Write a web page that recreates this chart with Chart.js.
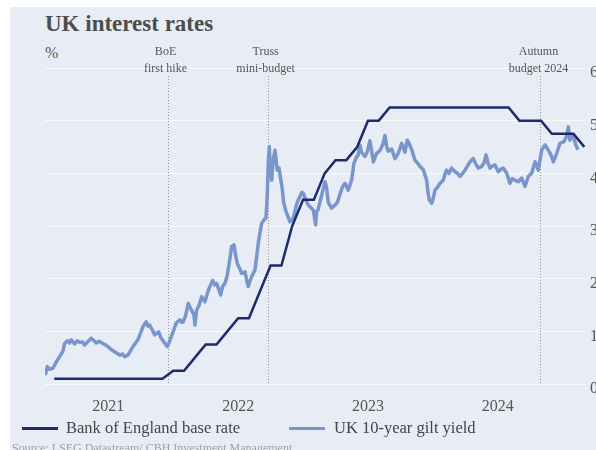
<!DOCTYPE html>
<html>
<head>
<meta charset="utf-8">
<title>UK interest rates</title>
<script src="https://cdn.jsdelivr.net/npm/chart.js@4.4.1/dist/chart.umd.min.js"></script>
<style>
  body { margin: 0; width: 596px; height: 450px; overflow: hidden; background: #fff; position: relative; font-family: 'Liberation Serif', 'Times New Roman', serif; }
  #panel { position: absolute; left: 10px; top: 7px; width: 620px; height: 460px; background: #e8ecf5; }
  #title { position: absolute; left: 45px; top: 11px; font-size: 23px; font-weight: bold; color: #4d4d4d; }
  #unit { position: absolute; left: 45px; top: 44px; font-size: 16px; color: #555; }
  #wrap { position: absolute; left: 0; top: 0; width: 620px; height: 420px; }
  .legend { position: absolute; top: 418px; font-size: 16.5px; color: #444; white-space: nowrap; }
  .swatch { position: absolute; top: 427px; width: 36px; height: 3px; }
  #source { position: absolute; left: 12px; top: 441px; font-size: 12px; color: #a0a0a0; white-space: nowrap; }
</style>
</head>
<body>
<div id="panel"></div>
<div id="title">UK interest rates</div>
<div id="unit">%</div>
<div id="wrap"><canvas id="ratesChart" width="620" height="420"></canvas></div>
<div class="swatch" style="left:22px; background:#1e2a6e;"></div>
<div class="legend" style="left:66px;">Bank of England base rate</div>
<div class="swatch" style="left:289px; background:#7896cc;"></div>
<div class="legend" style="left:334px;">UK 10-year gilt yield</div>
<div id="source">Source: LSEG Datastream/ CBH Investment Management</div>

<script>
// Bank of England base rate, month-end values from Jan 2021 to Feb 2025
const baseRateStart = 2021; // first value is end of January of this year
const baseRate = [
    0.1, 0.1, 0.1, 0.1, 0.1, 0.1, 0.1, 0.1, 0.1, 0.1, 0.1, 0.25,
    0.25, 0.5, 0.75, 0.75, 1.0, 1.25, 1.25, 1.75, 2.25, 2.25, 3.0, 3.5,
    3.5, 4.0, 4.25, 4.25, 4.5, 5.0, 5.0, 5.25, 5.25, 5.25, 5.25, 5.25,
    5.25, 5.25, 5.25, 5.25, 5.25, 5.25, 5.25, 5.0, 5.0, 5.0, 4.75, 4.75,
    4.75, 4.5
];

// UK 10-year gilt yield (decimal years)
const giltYears = [
    2021.014, 2021.030, 2021.045, 2021.073, 2021.099, 2021.125, 2021.150, 2021.163, 2021.185, 2021.202,
    2021.214, 2021.240, 2021.260, 2021.279, 2021.300, 2021.317, 2021.340, 2021.368, 2021.390, 2021.407,
    2021.430, 2021.458, 2021.480, 2021.497, 2021.520, 2021.549, 2021.570, 2021.587, 2021.610, 2021.626,
    2021.651, 2021.670, 2021.690, 2021.710, 2021.728, 2021.750, 2021.767, 2021.792, 2021.805, 2021.818,
    2021.840, 2021.857, 2021.875, 2021.888, 2021.905, 2021.921, 2021.940, 2021.954, 2021.970, 2021.985,
    2022.005, 2022.023, 2022.052, 2022.065, 2022.077, 2022.095, 2022.116, 2022.130, 2022.142, 2022.160,
    2022.167, 2022.180, 2022.200, 2022.219, 2022.244, 2022.260, 2022.277, 2022.304, 2022.320, 2022.334,
    2022.350, 2022.365, 2022.380, 2022.398, 2022.415, 2022.431, 2022.450, 2022.468, 2022.480, 2022.493,
    2022.510, 2022.527, 2022.553, 2022.565, 2022.578, 2022.590, 2022.604, 2022.629, 2022.642, 2022.655,
    2022.670, 2022.681, 2022.700, 2022.714, 2022.724, 2022.732, 2022.740, 2022.748, 2022.758, 2022.770,
    2022.784, 2022.801, 2022.815, 2022.827, 2022.840, 2022.850, 2022.866, 2022.880, 2022.899, 2022.924,
    2022.940, 2022.955, 2022.976, 2022.990, 2023.002, 2023.020, 2023.040, 2023.060, 2023.079, 2023.097,
    2023.105, 2023.115, 2023.145, 2023.169, 2023.180, 2023.194, 2023.220, 2023.246, 2023.265, 2023.284,
    2023.305, 2023.323, 2023.348, 2023.374, 2023.392, 2023.410, 2023.425, 2023.438, 2023.451, 2023.477,
    2023.495, 2023.515, 2023.530, 2023.541, 2023.567, 2023.592, 2023.615, 2023.631, 2023.645, 2023.656,
    2023.683, 2023.708, 2023.733, 2023.760, 2023.785, 2023.803, 2023.820, 2023.837, 2023.862, 2023.880,
    2023.901, 2023.926, 2023.952, 2023.962, 2023.972, 2023.991, 2024.005, 2024.016, 2024.040, 2024.055,
    2024.080, 2024.095, 2024.106, 2024.125, 2024.145, 2024.170, 2024.190, 2024.209, 2024.230, 2024.247,
    2024.270, 2024.286, 2024.311, 2024.330, 2024.350, 2024.376, 2024.395, 2024.409, 2024.425, 2024.440,
    2024.460, 2024.478, 2024.504, 2024.525, 2024.542, 2024.569, 2024.594, 2024.610, 2024.632, 2024.658,
    2024.684, 2024.710, 2024.735, 2024.761, 2024.787, 2024.800, 2024.812, 2024.838, 2024.864, 2024.889,
    2024.910, 2024.928, 2024.954, 2024.979, 2025.010, 2025.030, 2025.043, 2025.056, 2025.073, 2025.082,
    2025.100, 2025.108, 2025.118
];
const giltYield = [
    0.17, 0.33, 0.28, 0.30, 0.42, 0.52, 0.62, 0.77, 0.82, 0.78,
    0.84, 0.76, 0.82, 0.79, 0.80, 0.74, 0.80, 0.87, 0.82, 0.78,
    0.81, 0.77, 0.74, 0.71, 0.66, 0.61, 0.58, 0.55, 0.57, 0.52,
    0.55, 0.63, 0.71, 0.78, 0.84, 0.98, 1.09, 1.18, 1.10, 1.12,
    1.02, 0.93, 0.97, 0.99, 0.88, 0.82, 0.76, 0.71, 0.80, 0.90,
    1.03, 1.16, 1.22, 1.17, 1.18, 1.30, 1.53, 1.45, 1.40, 1.30,
    1.12, 1.40, 1.50, 1.66, 1.56, 1.70, 1.82, 1.97, 1.88, 1.91,
    1.80, 1.69, 1.85, 1.91, 2.05, 2.29, 2.61, 2.64, 2.45, 2.29,
    2.20, 2.10, 2.13, 1.98, 1.85, 1.95, 2.04, 2.16, 2.40, 2.67,
    2.90, 3.05, 3.12, 3.15, 3.56, 4.20, 4.51, 4.10, 3.87, 4.25,
    4.44, 4.06, 4.10, 3.90, 3.70, 3.45, 3.30, 3.20, 3.08, 3.15,
    3.30, 3.45, 3.56, 3.64, 3.62, 3.50, 3.40, 3.35, 3.30, 3.02,
    3.28, 3.30, 3.60, 3.84, 3.75, 3.45, 3.34, 3.40, 3.45, 3.60,
    3.75, 3.81, 3.68, 3.87, 4.19, 4.30, 4.35, 4.54, 4.40, 4.32,
    4.41, 4.62, 4.40, 4.22, 4.38, 4.43, 4.55, 4.72, 4.50, 4.42,
    4.46, 4.28, 4.38, 4.57, 4.40, 4.63, 4.55, 4.45, 4.25, 4.20,
    4.13, 4.07, 3.87, 3.65, 3.50, 3.43, 3.55, 3.68, 3.75, 3.81,
    3.87, 4.00, 4.06, 4.00, 4.10, 4.03, 4.00, 3.94, 4.00, 4.06,
    4.15, 4.22, 4.28, 4.18, 4.10, 4.13, 4.20, 4.35, 4.20, 4.10,
    4.14, 4.16, 4.03, 4.08, 4.10, 4.00, 3.81, 3.90, 3.87, 3.84,
    3.91, 3.75, 3.94, 4.00, 4.22, 4.15, 4.06, 4.44, 4.54, 4.44,
    4.35, 4.22, 4.38, 4.57, 4.60, 4.70, 4.88, 4.63, 4.72, 4.70,
    4.55, 4.50, 4.45
];

// Events marked with dotted lines
const eventDates = [2021.956, 2022.727, 2024.829];
const eventLabels = [['BoE', 'first hike'], ['Truss', 'mini-budget'], ['Autumn', 'budget 2024']];

// Year labels sit in the middle of each year
const yearTicks = [2021.5, 2022.5, 2023.5, 2024.5];

const serif = "'Liberation Serif', 'Times New Roman', serif";

const basePoints = baseRate.map((v, i) => ({ x: baseRateStart + (i + 1) / 12, y: v }));
const giltPoints = giltYears.map((x, i) => ({ x: x, y: giltYield[i] }));

// draws the dotted event lines and their labels
const eventPlugin = {
    id: 'events',
    beforeDatasetsDraw(chart) {
        const { ctx, chartArea, scales } = chart;
        ctx.save();
        ctx.strokeStyle = 'rgba(110,110,110,0.7)';
        ctx.lineWidth = 1;
        ctx.setLineDash([1, 2]);
        eventDates.forEach(d => {
            const x = Math.round(scales.x.getPixelForValue(d)) + 0.5;
            ctx.beginPath();
            ctx.moveTo(x, chartArea.top + 8);
            ctx.lineTo(x, chartArea.bottom);
            ctx.stroke();
        });
        ctx.restore();
    },
    afterDraw(chart) {
        const { ctx, scales } = chart;
        ctx.save();
        ctx.font = '12px ' + serif;
        ctx.fillStyle = '#555';
        ctx.textAlign = 'center';
        ctx.textBaseline = 'middle';
        eventDates.forEach((d, i) => {
            const x = scales.x.getPixelForValue(d);
            ctx.fillText(eventLabels[i][0], x - 2, 52);
            ctx.fillText(eventLabels[i][1], x - 2, 69);
        });
        ctx.restore();
    }
};

const ctx = document.getElementById('ratesChart').getContext('2d');
new Chart(ctx, {
    type: 'line',
    data: {
        datasets: [{
            label: 'Bank of England base rate',
            data: basePoints,
            borderColor: '#1e2a6e',
            borderWidth: 2.5,
            pointRadius: 0,
            tension: 0
        }, {
            label: 'UK 10-year gilt yield',
            data: giltPoints,
            borderColor: '#7896cc',
            borderWidth: 3.5,
            borderJoinStyle: 'round',
            pointRadius: 0,
            tension: 0
        }]
    },
    options: {
        responsive: false,
        animation: false,
        devicePixelRatio: 1,
        layout: { padding: { left: 45, top: 68, right: 0, bottom: 0 } },
        plugins: {
            legend: { display: false },
            tooltip: { enabled: false }
        },
        scales: {
            x: {
                type: 'linear',
                min: 2021.012,
                max: 2025.172,
                afterFit: s => { s.height = 36; },
                afterBuildTicks: s => { s.ticks = yearTicks.map(v => ({ value: v })); },
                grid: { display: false },
                border: { display: false },
                ticks: {
                    padding: 5,
                    maxRotation: 0,
                    autoSkip: false,
                    color: '#555',
                    font: { family: serif, size: 16 },
                    callback: v => String(Math.floor(v))
                }
            },
            y: {
                position: 'right',
                min: 0,
                max: 6,
                afterFit: s => { s.width = 35; },
                grid: { color: 'rgba(255,255,255,0.8)', lineWidth: 1, drawTicks: false },
                border: { display: false },
                ticks: {
                    stepSize: 1,
                    padding: 5,
                    labelOffset: 5,
                    color: '#555',
                    font: { family: serif, size: 16 }
                }
            }
        }
    },
    plugins: [eventPlugin]
});
</script>
</body>
</html>
